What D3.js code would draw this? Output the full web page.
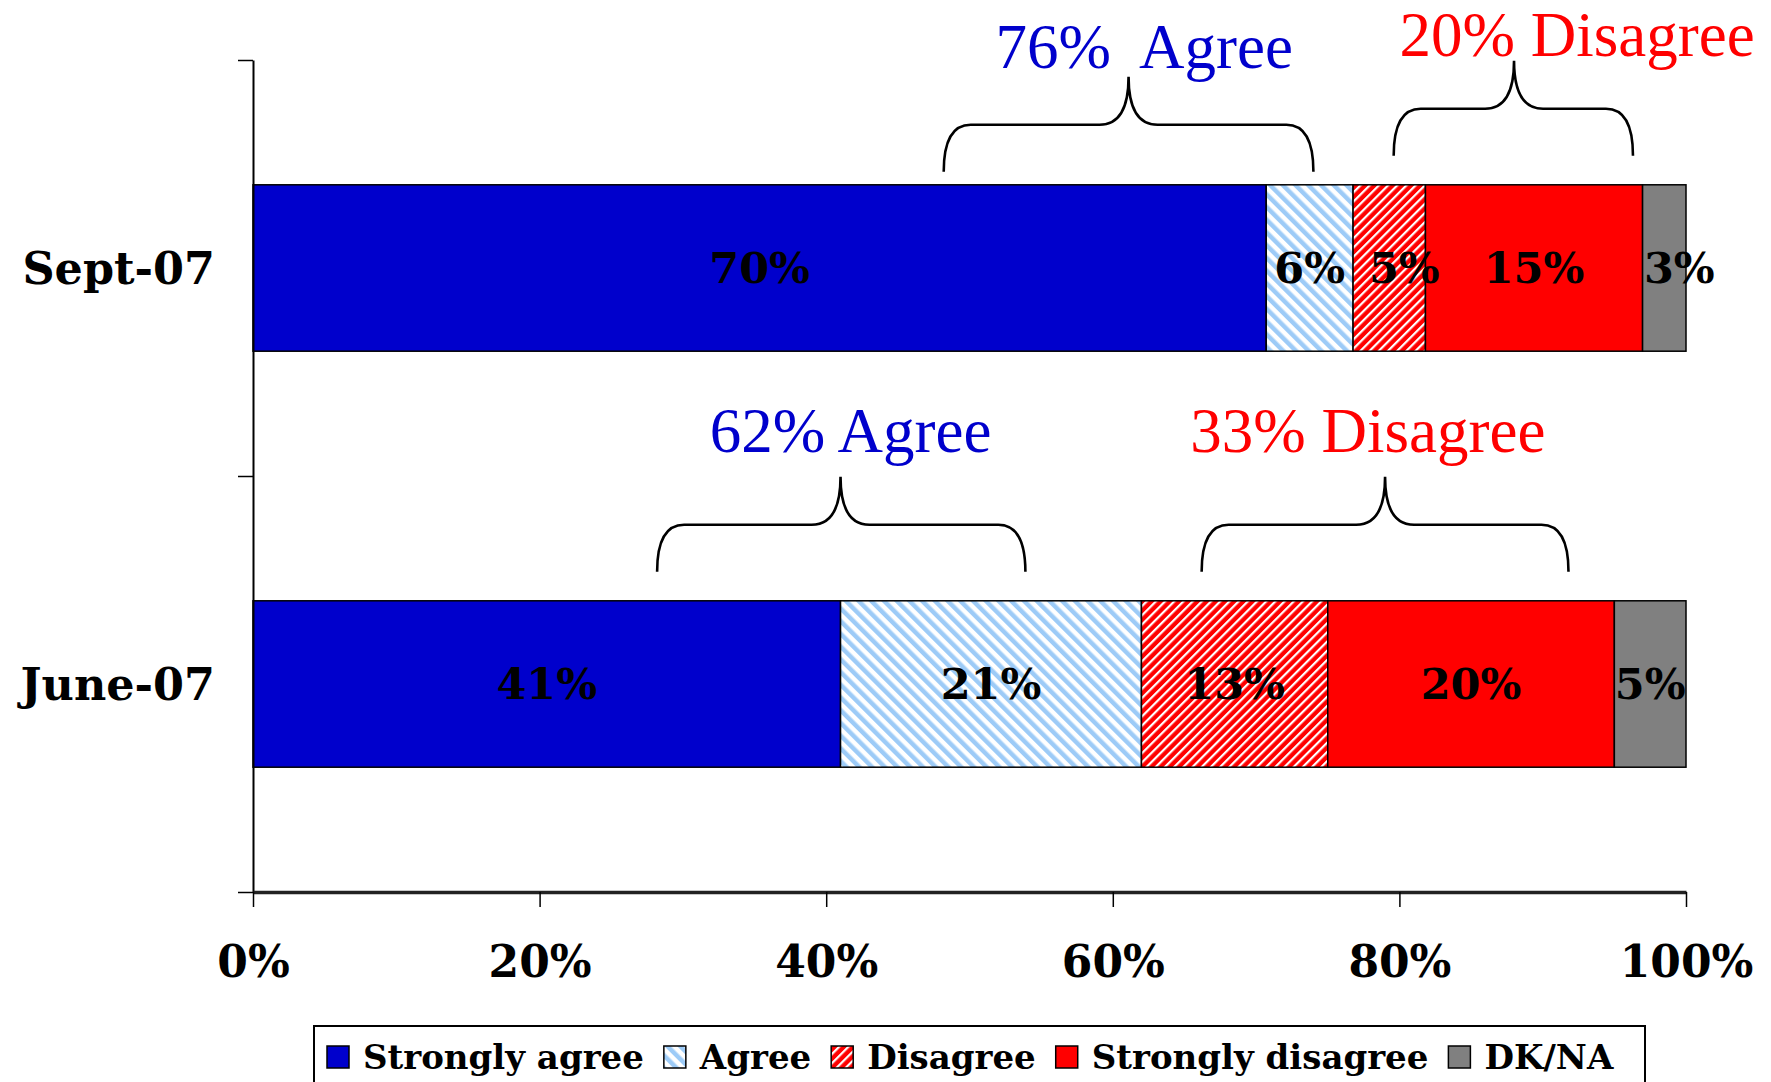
<!DOCTYPE html>
<html>
<head>
<meta charset="utf-8">
<script src="https://cdn.jsdelivr.net/npm/d3@7"></script>
<style>
  body { margin: 0; background: #fff; }
  svg { display: block; }
</style>
</head>
<body>
<div id="chart"></div>
<script>
// data
const periods = ["Sept-07", "June-07"];
const keys = ["Strongly agree", "Agree", "Disagree", "Strongly disagree", "DK/NA"];
const sept07 = [70, 6, 5, 15, 3];
const june07 = [41, 21, 13, 20, 5];
const tickValues = [0, 0.2, 0.4, 0.6, 0.8, 1];

// brace annotations (x in share of the bar)
const braceText = ["76%  Agree", "20% Disagree", "62% Agree", "33% Disagree"];
const braceRow = ["Sept-07", "Sept-07", "June-07", "June-07"];
const braceFrom = [0.482, 0.796, 0.282, 0.662];
const braceTo = [0.740, 0.963, 0.539, 0.918];
const bracePeak = [0.611, 0.880, 0.410, 0.790];
const braceLabelAt = [0.622, 0.924, 0.417, 0.778];
const braceColor = ["#0000CC", "#FF0000", "#0000CC", "#FF0000"];

const rows = [sept07, june07].map((vals, i) => {
  const o = { period: periods[i] };
  keys.forEach((k, j) => o[k] = vals[j]);
  return o;
});

const width = 1771, height = 1082;
const svg = d3.select("#chart").append("svg")
  .attr("width", width)
  .attr("height", height);

const defs = svg.append("defs");
// light blue "\" stripes
const pA = defs.append("pattern")
  .attr("id", "agree")
  .attr("patternUnits", "userSpaceOnUse")
  .attr("width", 9).attr("height", 9)
  .attr("patternTransform", "rotate(-45)");
pA.append("rect").attr("width", 9).attr("height", 9).attr("fill", "#fff");
pA.append("rect").attr("width", 4.5).attr("height", 9).attr("fill", "#9DCBF7");
// red "/" stripes
const pD = defs.append("pattern")
  .attr("id", "disagree")
  .attr("patternUnits", "userSpaceOnUse")
  .attr("width", 6.5).attr("height", 6.5)
  .attr("patternTransform", "rotate(45)");
pD.append("rect").attr("width", 6.5).attr("height", 6.5).attr("fill", "#FF0000");
pD.append("rect").attr("width", 2.2).attr("height", 6.5).attr("fill", "#fff");

const fills = ["#0000CC", "url(#agree)", "url(#disagree)", "#FF0000", "#808080"];
const color = d3.scaleOrdinal().domain(keys).range(fills);

const x = d3.scaleLinear().domain([0, 1]).range([253, 1686]);
const y = d3.scaleBand().domain(periods).range([60, 892])
  .paddingInner(0.6).paddingOuter(0.3);

const stack = d3.stack().keys(keys).offset(d3.stackOffsetExpand);
const series = stack(rows);

const boldSerif = "'DejaVu Serif', serif";

// bars
const g = svg.append("g");
g.selectAll("g.series")
  .data(series)
  .join("g")
  .attr("class", "series")
  .attr("fill", d => color(d.key))
  .selectAll("rect")
  .data(d => d)
  .join("rect")
  .attr("x", d => x(d[0]))
  .attr("y", d => y(d.data.period))
  .attr("width", d => x(d[1]) - x(d[0]))
  .attr("height", y.bandwidth())
  .attr("stroke", "#000")
  .attr("stroke-width", 1.5);

// value labels (narrow Sept segments get pushed right a little, as in the original)
const nudge = (key, period) =>
  period === "Sept-07" && (key === "Disagree" || key === "DK/NA") ? 15 : 0;
series.forEach(s => {
  g.selectAll(null)
    .data(s)
    .join("text")
    .attr("x", d => (x(d[0]) + x(d[1])) / 2 + nudge(s.key, d.data.period))
    .attr("y", d => y(d.data.period) + y.bandwidth() / 2)
    .attr("dy", "0.35em")
    .attr("text-anchor", "middle")
    .attr("font-family", boldSerif)
    .attr("font-weight", "bold")
    .attr("font-size", 43)
    .attr("fill", "#000")
    .text(d => d.data[s.key] + "%");
});

// left axis (ticks at band edges)
const yEdge = d3.scaleLinear().domain([0, 2]).range([892, 60]);
svg.append("g")
  .attr("transform", `translate(${x(0)},0)`)
  .call(d3.axisLeft(yEdge).tickValues([0, 1, 2]).tickFormat("").tickSize(15).tickSizeOuter(0))
  .call(a => a.select(".domain").attr("stroke-width", 2))
  .call(a => a.selectAll(".tick line").attr("stroke-width", 1.5));

// category labels
svg.append("g").selectAll("text")
  .data(periods)
  .join("text")
  .attr("x", 215)
  .attr("y", d => y(d) + y.bandwidth() / 2)
  .attr("dy", "0.35em")
  .attr("text-anchor", "end")
  .attr("font-family", boldSerif)
  .attr("font-weight", "bold")
  .attr("font-size", 44.5)
  .text(d => d);

// bottom axis
const xAxis = svg.append("g")
  .attr("transform", "translate(0,892)")
  .call(d3.axisBottom(x).tickValues(tickValues).tickFormat(d3.format(".0%")).tickSize(15).tickSizeOuter(0));
xAxis.select(".domain").attr("stroke", "#222").attr("stroke-width", 3.5);
xAxis.selectAll(".tick line").attr("stroke-width", 1.5);
xAxis.selectAll(".tick text")
  .attr("y", 70)
  .attr("dy", "0.35em")
  .attr("font-family", boldSerif)
  .attr("font-weight", "bold")
  .attr("font-size", 44)
  .attr("fill", "#000");

// braces
const braceLift = [13, 29, 29, 29];
const labelGap = [9, 5, 25, 25];
function bracePath(x0, x1, xc, yb, ym, yp) {
  const r = 27, rc = 29;
  return `M${x0},${yb} Q${x0},${ym} ${x0 + r},${ym} L${xc - rc},${ym} Q${xc},${ym} ${xc},${yp}` +
    ` Q${xc},${ym} ${xc + rc},${ym} L${x1 - r},${ym} Q${x1},${ym} ${x1},${yb}`;
}
const ann = svg.append("g");
braceText.forEach((t, i) => {
  const yb = y(braceRow[i]) - braceLift[i];
  const ym = yb - 47;
  const yp = ym - 48;
  ann.append("path")
    .attr("d", bracePath(x(braceFrom[i]), x(braceTo[i]), x(bracePeak[i]), yb, ym, yp))
    .attr("fill", "none")
    .attr("stroke", "#000")
    .attr("stroke-width", 2.6);
  ann.append("text")
    .attr("x", x(braceLabelAt[i]))
    .attr("y", yp - labelGap[i])
    .attr("text-anchor", "middle")
    .attr("font-family", "'Liberation Serif', 'Times New Roman', serif")
    .attr("font-size", 63)
    .attr("fill", braceColor[i])
    .style("white-space", "pre")
    .text(t);
});

// legend
const legend = svg.append("g");
legend.append("rect")
  .attr("x", 314).attr("y", 1026)
  .attr("width", 1331).attr("height", 90)
  .attr("fill", "#fff")
  .attr("stroke", "#000")
  .attr("stroke-width", 2);
let lx = 327;
keys.forEach(k => {
  legend.append("rect")
    .attr("x", lx).attr("y", 1046)
    .attr("width", 22).attr("height", 22)
    .attr("fill", color(k))
    .attr("stroke", "#000")
    .attr("stroke-width", 1.5);
  const t = legend.append("text")
    .attr("x", lx + 36)
    .attr("y", 1057)
    .attr("dy", "0.35em")
    .attr("font-family", boldSerif)
    .attr("font-weight", "bold")
    .attr("font-size", 34)
    .text(k);
  lx += 36 + t.node().getComputedTextLength() + 20;
});
</script>
</body>
</html>
